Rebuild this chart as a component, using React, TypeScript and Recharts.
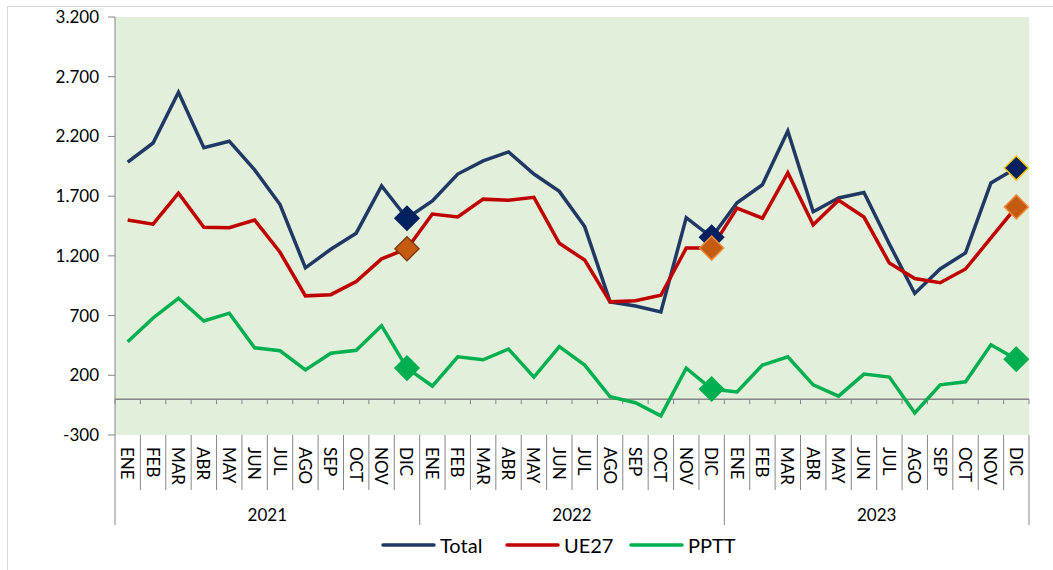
import React from 'react';
import { LineChart, Line, XAxis, YAxis, CartesianGrid, ReferenceLine, Legend } from 'recharts';

const months = ['ENE', 'FEB', 'MAR', 'ABR', 'MAY', 'JUN', 'JUL', 'AGO', 'SEP', 'OCT', 'NOV', 'DIC'];
const years = ['2021', '2022', '2023'];

const total = [
  1985, 2145, 2570, 2105, 2160, 1920, 1630, 1100, 1255, 1390, 1785, 1515,
  1660, 1885, 1995, 2070, 1885, 1740, 1445, 815, 780, 730, 1520, 1355,
  1645, 1795, 2245, 1570, 1685, 1730, 1300, 885, 1090, 1225, 1810, 1935,
];
const ue27 = [
  1500, 1465, 1725, 1440, 1435, 1500, 1230, 865, 875, 985, 1175, 1260,
  1550, 1525, 1675, 1665, 1690, 1305, 1165, 815, 825, 870, 1265, 1265,
  1600, 1515, 1895, 1460, 1665, 1525, 1140, 1010, 975, 1090, 1350, 1610,
];
const pptt = [
  480, 680, 845, 655, 720, 430, 405, 245, 385, 410, 615, 260,
  110, 355, 330, 420, 185, 440, 285, 20, -30, -140, 260, 85,
  60, 285, 355, 120, 25, 210, 185, -115, 120, 145, 455, 335,
];

const yTicks = [-300, 200, 700, 1200, 1700, 2200, 2700, 3200];

const data = years.flatMap((year, yi) =>
  months.map((month, mi) => {
    const i = yi * 12 + mi;
    return { month, year, total: total[i], ue27: ue27[i], pptt: pptt[i] };
  })
);

// chart geometry
const W = 1053;
const H = 570;
const Y_W = 115;
const M_RIGHT = 24;
const BAND = (W - Y_W - M_RIGHT) / data.length;
const MONTH_H = 55;
const YEAR_H = 40;
const AXIS_GREY = '#868686';
const FONT = 'Lato, "DejaVu Sans", sans-serif';

// marker styles for the DIC points, one per year
const markerStyle: Record<string, { fill: string; stroke: string[] }> = {
  total: { fill: '#002060', stroke: ['#002060', '#002060', '#ffc000'] },
  ue27: { fill: '#c55a11', stroke: ['#843c0c', '#f08a3c', '#f08a3c'] },
  pptt: { fill: '#00b050', stroke: ['#00b050', '#00b050', '#00b050'] },
};

const fmt = (v: number) => String(v).replace(/\B(?=(\d{3})+(?!\d))/g, '.');

function diamondDot(series: string) {
  return (props: any) => {
    const { cx, cy, index } = props;
    if (index % 12 !== 11 || cx == null) return <g key={`${series}-${index}`} />;
    const st = markerStyle[series];
    const r = 12;
    return (
      <path
        key={`${series}-${index}`}
        d={`M${cx},${cy - r} L${cx + r},${cy} L${cx},${cy + r} L${cx - r},${cy} Z`}
        fill={st.fill}
        stroke={st.stroke[Math.floor(index / 12)]}
        strokeWidth={1.5}
      />
    );
  };
}

function MonthTick(props: any) {
  const { x, y, payload, index } = props;
  const i = payload?.index ?? index;
  return (
    <g>
      <line x1={x - BAND / 2} y1={y} x2={x - BAND / 2} y2={y + MONTH_H} stroke={AXIS_GREY} />
      {i === data.length - 1 && (
        <line x1={x + BAND / 2} y1={y} x2={x + BAND / 2} y2={y + MONTH_H} stroke={AXIS_GREY} />
      )}
      <text
        transform={`translate(${x},${y + 12}) rotate(90)`}
        textAnchor="start"
        dominantBaseline="central"
        fontSize={17}
        fill="#000"
        fontFamily={FONT}
      >
        {payload.value}
      </text>
    </g>
  );
}

function YearTick(props: any) {
  const { x, y, payload, index } = props;
  const i = payload?.index ?? index;
  return (
    <g>
      {i % 12 === 0 && (
        <line x1={x - BAND / 2} y1={y} x2={x - BAND / 2} y2={y + 35} stroke={AXIS_GREY} />
      )}
      {i === data.length - 1 && (
        <line x1={x + BAND / 2} y1={y} x2={x + BAND / 2} y2={y + 35} stroke={AXIS_GREY} />
      )}
      {i % 12 === 5 && (
        <text x={x + BAND / 2} y={y + 31} textAnchor="middle" fontSize={17} fill="#000" fontFamily={FONT}>
          {payload.value}
        </text>
      )}
    </g>
  );
}

function ZeroAxis(props: any) {
  const { x1, y1, x2 } = props;
  const n = data.length;
  const step = (x2 - x1) / n;
  return (
    <g>
      <line x1={x1} y1={y1} x2={x2} y2={y1} stroke={AXIS_GREY} strokeWidth={1.5} />
      {Array.from({ length: n + 1 }, (_, k) => (
        <line key={k} x1={x1 + k * step} y1={y1} x2={x1 + k * step} y2={y1 + 5} stroke={AXIS_GREY} />
      ))}
    </g>
  );
}

const legendItems = [
  { label: 'Total', color: '#1f3864' },
  { label: 'UE27', color: '#c00000' },
  { label: 'PPTT', color: '#00b050' },
];

function LegendContent() {
  return (
    <div style={{ display: 'flex', paddingLeft: 381, height: 30, alignItems: 'center', fontFamily: FONT }}>
      {legendItems.map((it) => (
        <div key={it.label} style={{ display: 'flex', alignItems: 'center', width: 124 }}>
          <svg width={55} height={6} style={{ marginRight: 4 }}>
            <line x1={2} y1={3} x2={53} y2={3} stroke={it.color} strokeWidth={3.5} strokeLinecap="round" />
          </svg>
          <span style={{ fontSize: 20, color: '#000' }}>{it.label}</span>
        </div>
      ))}
    </div>
  );
}

const pad = { left: BAND / 2, right: BAND / 2 };

export default function App() {
  return (
    <div style={{ position: 'absolute', left: 0, top: 0, width: W, height: H, background: '#fff', fontFamily: FONT, overflow: 'hidden' }}>
      <div style={{ position: 'absolute', left: 7, top: 6, width: W, height: H, borderTop: '1px solid #d9d9d9', borderLeft: '1px solid #d9d9d9' }} />
      <LineChart width={W} height={H} data={data} margin={{ top: 17, right: M_RIGHT, bottom: 0, left: 0 }} style={{ position: 'absolute', left: 0, top: 0 }}>
        <CartesianGrid horizontal={false} vertical={false} fill="#e2efda" />
        <XAxis
          dataKey="month"
          xAxisId={0}
          padding={pad}
          height={MONTH_H}
          interval={0}
          axisLine={false}
          tickLine={false}
          tickSize={0}
          tickMargin={0}
          tick={<MonthTick />}
        />
        <XAxis
          dataKey="year"
          xAxisId="year"
          padding={pad}
          height={YEAR_H}
          interval={0}
          axisLine={false}
          tickLine={false}
          tickSize={0}
          tickMargin={0}
          tick={<YearTick />}
        />
        <YAxis
          width={Y_W}
          domain={[-300, 3200]}
          ticks={yTicks}
          interval={0}
          tickFormatter={fmt}
          tick={{ fontSize: 17, fill: '#000', fontFamily: FONT }}
          tickSize={7}
          tickMargin={9}
          stroke={AXIS_GREY}
          allowDataOverflow
        />
        <ReferenceLine y={0} xAxisId={0} shape={<ZeroAxis />} />
        <Line dataKey="total" stroke="#1f3864" strokeWidth={3.5} dot={diamondDot('total')} activeDot={false} isAnimationActive={false} />
        <Line dataKey="ue27" stroke="#c00000" strokeWidth={3.5} dot={diamondDot('ue27')} activeDot={false} isAnimationActive={false} />
        <Line dataKey="pptt" stroke="#00b050" strokeWidth={3.5} dot={diamondDot('pptt')} activeDot={false} isAnimationActive={false} />
        <Legend verticalAlign="bottom" height={40} content={<LegendContent />} wrapperStyle={{ left: 0, width: W }} />
      </LineChart>
    </div>
  );
}
